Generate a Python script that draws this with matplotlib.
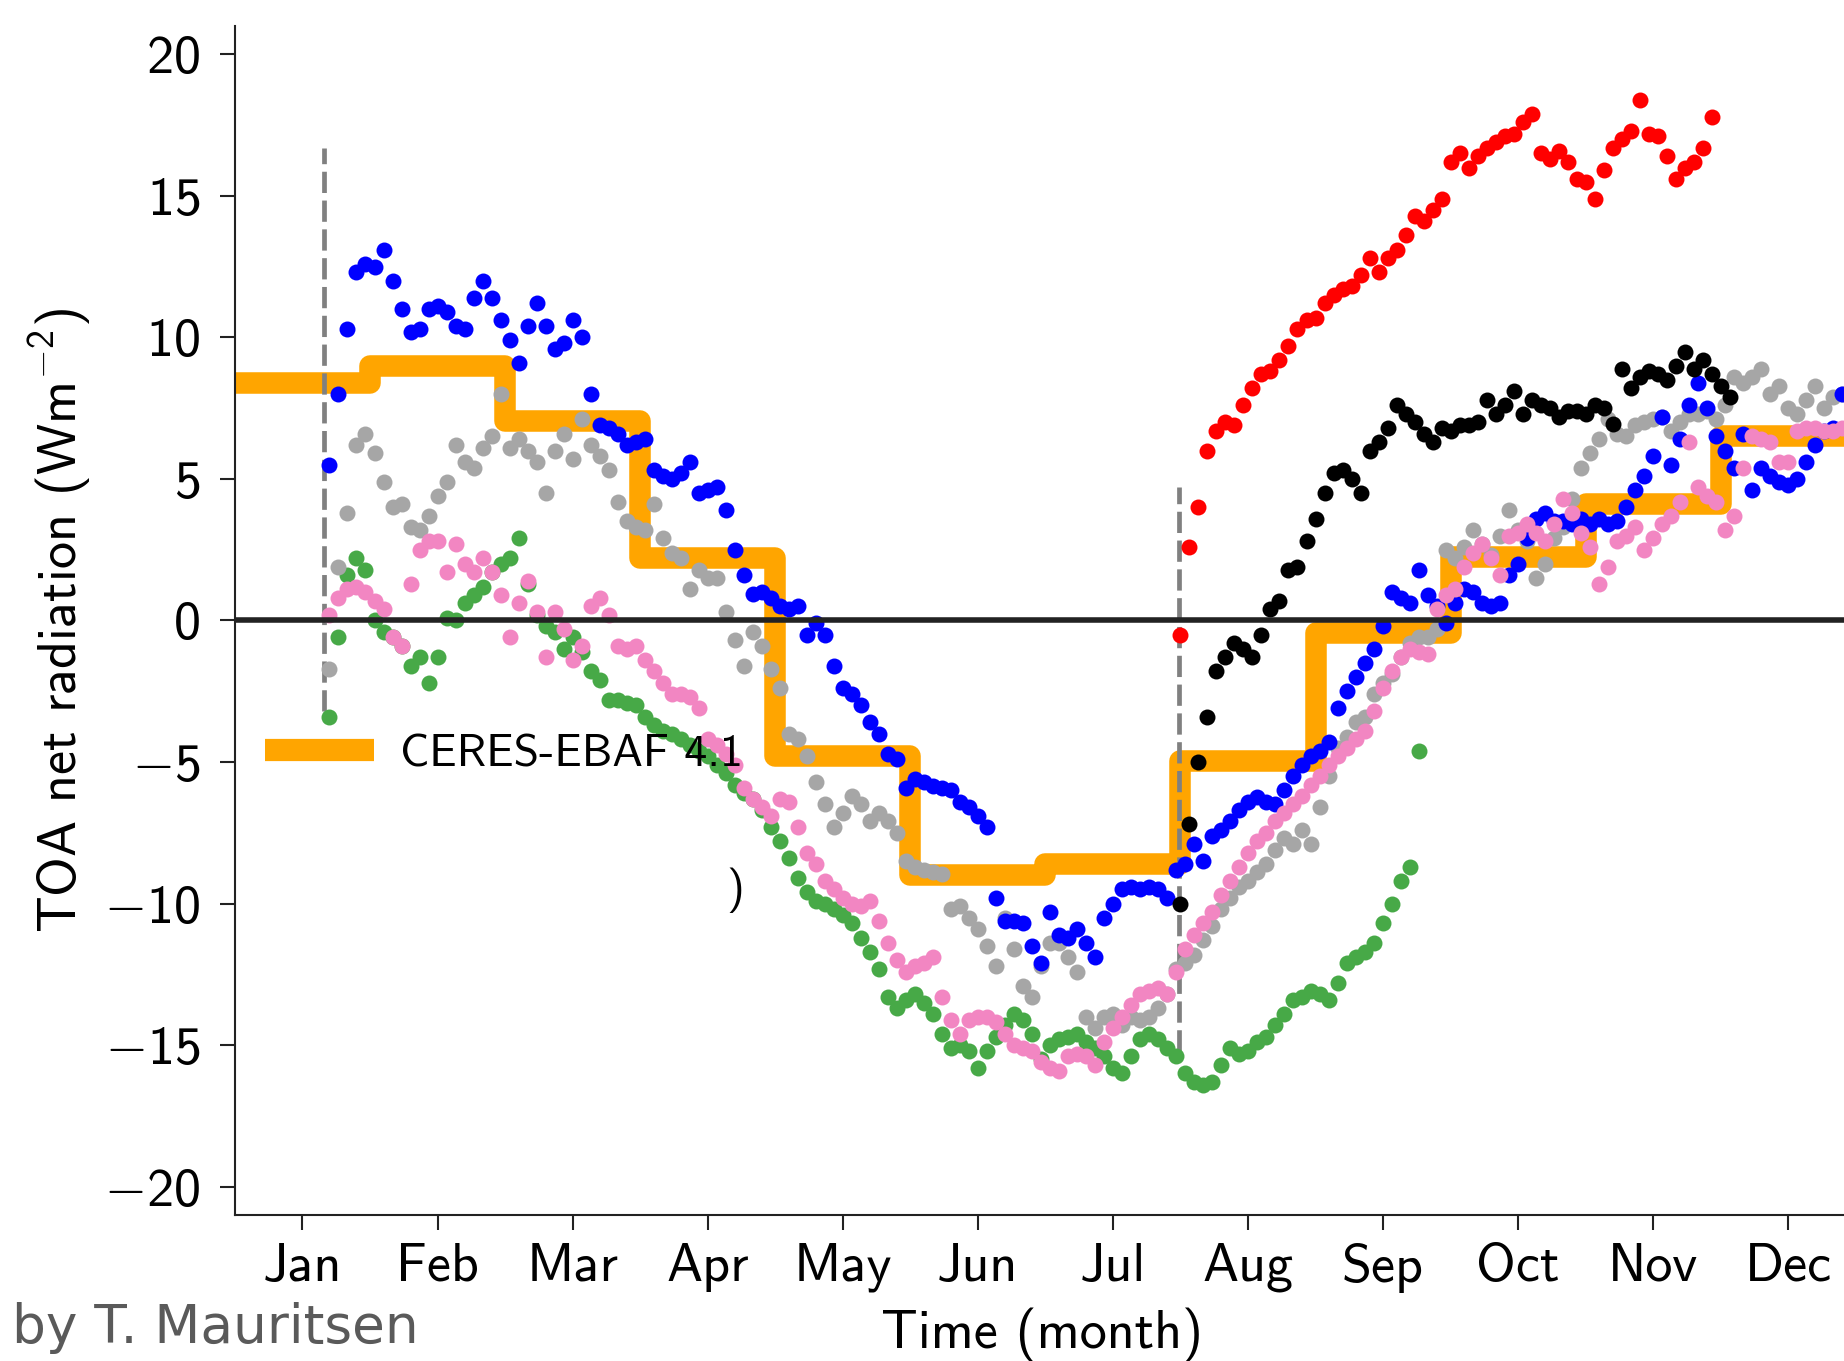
import numpy as np
import matplotlib
matplotlib.use("Agg")
import matplotlib.pyplot as plt
from matplotlib.lines import Line2D
from matplotlib.ticker import FuncFormatter

plt.rcParams['font.family'] = ['cmss10', 'DejaVu Sans']
plt.rcParams['mathtext.fontset'] = 'custom'
plt.rcParams['mathtext.rm'] = 'cmss10'
plt.rcParams['mathtext.sf'] = 'cmss10'
plt.rcParams['mathtext.it'] = 'cmss10'
plt.rcParams['axes.formatter.use_mathtext'] = True

months = ['Jan', 'Feb', 'Mar', 'Apr', 'May', 'Jun',
          'Jul', 'Aug', 'Sep', 'Oct', 'Nov', 'Dec']

# monthly CERES-EBAF 4.1 values
ceres = [8.4, 9.0, 7.05, 2.2, -4.8, -9.0, -8.6, -4.95, -0.45, 2.25, 4.1, 6.5]

# every-other-day values, x in months (1 = mid Jan), step 1/15 month
step = 1 / 15.

blue_start = 1.2
blue = [5.5, 8.0, 10.3, 12.3, 12.6, 12.5, 13.1, 12.0, 11.0, 10.2,
        10.3, 11.0, 11.1, 10.9, 10.4, 10.3, 11.4, 12.0, 11.4, 10.6,
        9.9, 9.1, 10.4, 11.2, 10.4, 9.6, 9.8, 10.6, 10.0, 8.0,
        6.9, 6.8, 6.6, 6.2, 6.3, 6.4, 5.3, 5.1, 5.0, 5.2,
        5.6, 4.5, 4.6, 4.7, 3.9, 2.5, 1.6, 0.95, 1.0, 0.8,
        0.5, 0.4, 0.5, -0.5, -0.1, -0.5, -1.6, -2.4, -2.6, -3.0,
        -3.6, -4.0, -4.7, -4.9, -5.9, -5.6, -5.7, -5.85, -5.9, -6.0,
        -6.4, -6.6, -6.9, -7.3, -9.8, -10.6, -10.6, -10.7, -11.5, -12.1,
        -10.3, -11.1, -11.2, -10.9, -11.4, -11.9, -10.5, -10.0, -9.5, -9.4,
        -9.5, -9.4, -9.5, -9.8, -8.8, -8.6, -7.9, -8.5, -7.6, -7.4,
        -7.1, -6.7, -6.4, -6.25, -6.4, -6.5, -6.0, -5.5, -5.1, -4.8,
        -4.6, -4.3, -3.1, -2.5, -2.0, -1.5, -1.0, -0.2, 1.0, 0.8,
        0.6, 1.8, 0.9, 0.5, -0.1, 0.6, 1.1, 1.0, 0.6, 0.5,
        0.6, 1.6, 2.0, 2.9, 3.6, 3.8, 3.5, 3.5, 3.4, 3.6,
        3.4, 3.6, 3.4, 3.5, 4.0, 4.6, 5.1, 5.8, 7.2, 5.5,
        6.4, 7.6, 8.4, 7.5, 6.5, 6.0, 5.4, 6.6, 4.6, 5.4,
        5.1, 4.9, 4.8, 5.0, 5.6, 6.2, 6.7, 6.8, 8.0]

gray_start = 1.2
gray = [-1.7, 1.9, 3.8, 6.2, 6.6, 5.9, 4.9, 4.0, 4.1, 3.3,
        3.2, 3.7, 4.4, 4.9, 6.2, 5.6, 5.4, 6.1, 6.5, 8.0,
        6.1, 6.4, 6.0, 5.6, 4.5, 6.0, 6.6, 5.7, 7.1, 6.2,
        5.8, 5.3, 4.2, 3.5, 3.3, 3.2, 4.1, 2.9, 2.4, 2.2,
        1.1, 1.8, 1.5, 1.5, 0.3, -0.7, -1.6, -0.4, -0.9, -1.7,
        -2.4, -4.0, -4.2, -4.8, -5.7, -6.5, -7.3, -6.8, -6.2, -6.5,
        -7.1, -6.8, -7.1, -7.5, -8.5, -8.7, -8.8, -8.9, -8.95, -10.2,
        -10.1, -10.5, -10.9, -11.5, -12.2, -10.5, -11.6, -12.9, -13.3, -12.2,
        -11.4, -11.4, -11.9, -12.4, -14.0, -14.4, -14.0, -13.9, -14.3, -14.0,
        -14.1, -14.0, -13.7, -13.2, -12.3, -12.1, -11.8, -11.3, -10.8, -10.2,
        -9.8, -9.4, -9.2, -8.9, -8.6, -8.1, -7.7, -7.9, -7.4, -7.9,
        -6.6, -5.5, -4.5, -4.1, -3.6, -3.4, -2.6, -2.2, -1.9, -1.3,
        -0.8, -0.6, -0.6, -0.3, 2.5, 2.2, 2.6, 3.2, 2.7, 2.3,
        3.0, 3.9, 3.2, 2.8, 1.5, 2.0, 2.9, 3.3, 4.3, 5.4,
        5.9, 6.4, 7.1, 6.6, 6.5, 6.9, 7.0, 7.1, 7.2, 6.7,
        7.0, 7.3, 7.3, 7.4, 7.1, 7.6, 8.6, 8.4, 8.6, 8.9,
        8.0, 8.3, 7.5, 7.3, 7.8, 8.3, 7.5, 7.9, 8.0]

pink_start = 1.2
pink = [0.2, 0.8, 1.1, 1.2, 1.0, 0.7, 0.4, -0.6, -0.9, 1.3,
        2.5, 2.8, 2.8, 1.7, 2.7, 2.0, 1.7, 2.2, 1.7, 0.9,
        -0.6, 0.6, 1.4, 0.3, -1.3, 0.3, -0.3, -1.4, -0.9, 0.5,
        0.8, 0.2, -0.9, -1.0, -0.9, -1.4, -1.8, -2.2, -2.6, -2.6,
        -2.7, -3.1, -4.2, -4.4, -4.7, -5.1, -5.9, -6.3, -6.6, -6.9,
        -6.3, -6.4, -7.3, -8.2, -8.6, -9.2, -9.5, -9.8, -10.0, -10.1,
        -9.9, -10.6, -11.4, -12.0, -12.4, -12.2, -12.1, -11.9, -13.3, -14.1,
        -14.6, -14.1, -14.0, -14.0, -14.2, -14.6, -15.0, -15.1, -15.2, -15.6,
        -15.8, -15.9, -15.4, -15.3, -15.4, -15.7, -14.9, -14.4, -14.0, -13.6,
        -13.2, -13.1, -13.0, -13.2, -12.4, -11.6, -11.1, -10.7, -10.3, -9.7,
        -9.2, -8.7, -8.2, -7.8, -7.5, -7.1, -6.8, -6.5, -6.2, -5.8,
        -5.5, -5.1, -4.8, -4.5, -4.2, -3.9, -3.2, -2.4, -1.8, -1.3,
        -1.0, -1.1, -1.2, 0.4, 0.9, 1.1, 1.9, 2.4, 2.7, 2.2,
        1.6, 3.0, 3.1, 3.4, 3.1, 2.8, 3.4, 4.3, 3.8, 3.1,
        2.6, 1.3, 1.9, 2.8, 3.0, 3.3, 2.5, 2.9, 3.4, 3.7,
        4.2, 6.3, 4.7, 4.4, 4.2, 3.2, 3.7, 5.4, 6.5, 6.4,
        6.3, 5.6, 5.6, 6.7, 6.8, 6.8, 6.7, 6.7, 6.8]

green_start = 1.2
green = [-3.4, -0.6, 1.6, 2.2, 1.8, 0.0, -0.4, -0.6, -0.9, -1.6,
         -1.3, -2.2, -1.3, 0.1, 0.0, 0.6, 0.9, 1.2, 1.7, 2.0,
         2.2, 2.9, 1.3, 0.2, -0.2, -0.4, -1.0, -0.6, -1.1, -1.8,
         -2.1, -2.8, -2.8, -2.9, -3.0, -3.4, -3.7, -3.9, -4.0, -4.2,
         -4.4, -4.6, -4.8, -5.1, -5.4, -5.8, -6.1, -6.3, -6.7, -7.3,
         -7.8, -8.4, -9.1, -9.6, -9.9, -10.0, -10.2, -10.4, -10.7, -11.2,
         -11.7, -12.3, -13.3, -13.7, -13.4, -13.2, -13.5, -13.9, -14.6, -15.1,
         -15.0, -15.2, -15.8, -15.2, -14.7, -14.3, -13.9, -14.1, -14.6, -15.5,
         -15.0, -14.8, -14.7, -14.6, -14.9, -15.1, -15.4, -15.8, -16.0, -15.4,
         -14.8, -14.6, -14.8, -15.1, -15.4, -16.0, -16.3, -16.4, -16.3, -15.7,
         -15.1, -15.3, -15.2, -14.9, -14.7, -14.3, -13.9, -13.4, -13.3, -13.1,
         -13.2, -13.4, -12.8, -12.1, -11.9, -11.7, -11.4, -10.7, -10.0, -9.2,
         -8.7, -4.6]

red_start = 7.5
red = [-0.5, 2.6, 4.0, 6.0, 6.7, 7.0, 6.9, 7.6, 8.2, 8.7,
       8.8, 9.2, 9.7, 10.3, 10.6, 10.7, 11.2, 11.5, 11.7, 11.8,
       12.2, 12.8, 12.3, 12.8, 13.1, 13.6, 14.3, 14.1, 14.5, 14.9,
       16.2, 16.5, 16.0, 16.4, 16.7, 16.9, 17.1, 17.2, 17.6, 17.9,
       16.5, 16.3, 16.6, 16.2, 15.6, 15.5, 14.9, 15.9, 16.7, 17.0,
       17.3, 18.4, 17.2, 17.1, 16.4, 15.6, 16.0, 16.2, 16.7, 17.8]

black_start = 7.5
black = [-10.0, -7.2, -5.0, -3.4, -1.8, -1.3, -0.8, -1.0, -1.3, -0.5,
         0.4, 0.7, 1.8, 1.9, 2.8, 3.6, 4.5, 5.2, 5.3, 5.0,
         4.5, 6.0, 6.3, 6.8, 7.6, 7.3, 7.0, 6.6, 6.3, 6.8,
         6.7, 6.9, 6.9, 7.0, 7.8, 7.3, 7.6, 8.1, 7.3, 7.8,
         7.6, 7.5, 7.2, 7.4, 7.4, 7.3, 7.6, 7.5, 6.95, 8.9,
         8.2, 8.6, 8.8, 8.7, 8.5, 9.0, 9.5, 8.9, 9.2, 8.7,
         8.3, 7.9]

# dashed markers: (month, bottom, top)
dash_lines = [(1.157, -3.2, 16.7), (7.493, -15.2, 4.7)]

fig = plt.figure(figsize=(18.44, 13.61), dpi=100)
ax = fig.add_axes([0.1274, 0.1073, 0.879, 0.8736])

edges = np.arange(0.5, 13.0, 1.0)
st = ax.stairs(ceres, edges, baseline=None, color='#FFA500', lw=15.5, zorder=1)
st.set_joinstyle('round')

for xm, lo, hi in dash_lines:
    ax.vlines(xm, lo, hi, colors='#808080', linestyles=(0, (4.5, 1.6)), lw=3.4, zorder=2)

series = [(green_start, green, '#47A947'),
          (gray_start, gray, '#A6A6A6'),
          (blue_start, blue, '#0000FF'),
          (pink_start, pink, '#F286C2'),
          (black_start, black, '#000000'),
          (red_start, red, '#FF0000')]
for x0, vals, col in series:
    xs = x0 + np.arange(len(vals)) * step
    ax.plot(xs, vals, 'o', ms=11.5, color=col, mec='none', zorder=3)

ax.axhline(0, color='#222222', lw=4, zorder=4)

ax.set_xlim(0.5, 12.5)
ax.set_ylim(-21, 21)
ax.set_xticks(range(1, 13), labels=months)
ax.set_yticks(range(-20, 21, 5))
ax.yaxis.set_major_formatter(FuncFormatter(lambda v, p: f'${int(round(v))}$'))
ax.tick_params(axis='both', labelsize=39, length=11, width=1.5, color='#222222')
ax.tick_params(axis='y', pad=14)
ax.tick_params(axis='x', pad=9)
for s in ['top', 'right']:
    ax.spines[s].set_visible(False)
for s in ['left', 'bottom']:
    ax.spines[s].set_linewidth(1.5)
    ax.spines[s].set_color('#222222')

ax.set_xlabel('Time (month)', fontsize=39)
ax.set_ylabel(r'TOA net radiation (Wm$^{-2}$)', fontsize=39)
ax.xaxis.label.set_va('center')
ax.yaxis.label.set_va('center')
ax.xaxis.set_label_coords(0.498, -0.101)
ax.yaxis.set_label_coords(-0.108, 0.5)

h = Line2D([], [], color='#FFA500', lw=16, solid_capstyle='butt')
ax.legend([h], ['CERES-EBAF 4.1'], loc='center left', bbox_to_anchor=(0.0185, 0.387),
          frameon=False, fontsize=33, handlelength=2.38, handletextpad=0.57,
          borderpad=0, borderaxespad=0)
ax.text(0.3085, 0.273, ')', transform=ax.transAxes, ha='center', va='center',
        fontsize=33)

fig.text(419 / 1844, 18 / 1361, 'by T. Mauritsen', ha='right', va='baseline',
         fontsize=38.3, color='#5a5a5a', family=['DejaVu Sans'])

fig.savefig('out.png', dpi=100)
